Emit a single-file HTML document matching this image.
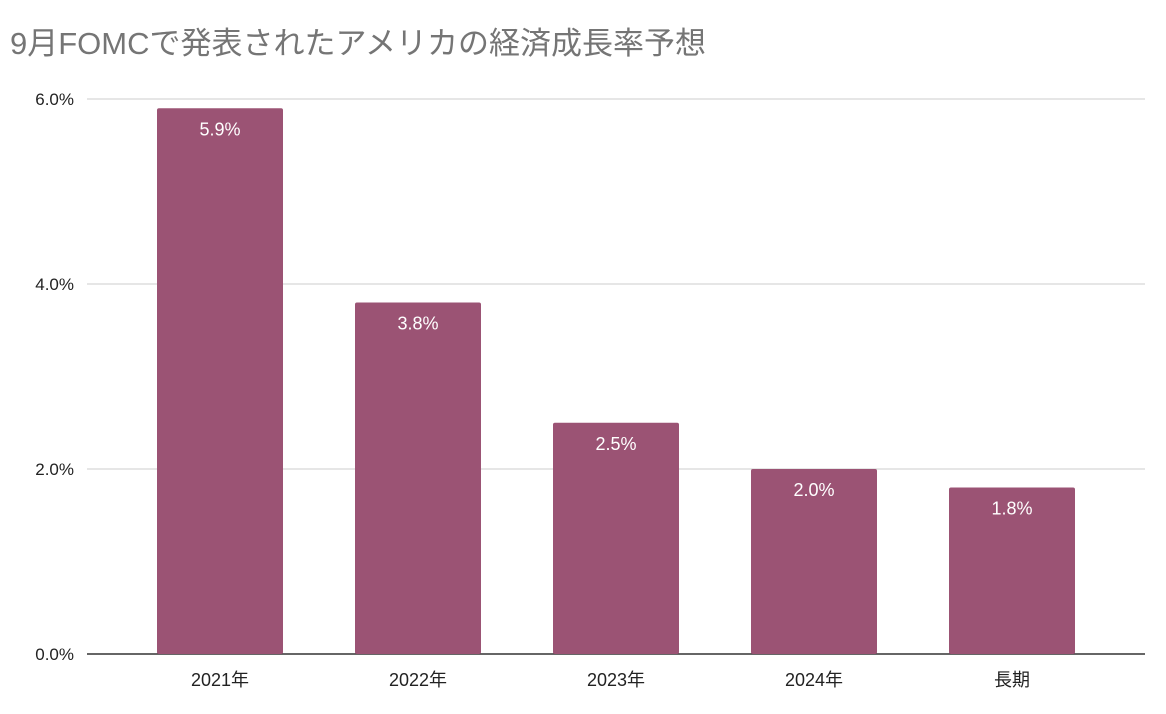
<!DOCTYPE html>
<html><head><meta charset="utf-8"><style>
body{margin:0;background:#fff;}
svg{display:block;font-family:"Liberation Sans","Noto Sans CJK JP",sans-serif;}
</style></head><body>
<svg id="chart" width="1166" height="714" viewBox="0 0 1166 714" xmlns="http://www.w3.org/2000/svg">
<text x="10" y="54" font-size="31" fill="#757575">9月FOMCで発表されたアメリカの経済成長率予想</text>
<g id="grid"></g>
<g id="bars"></g>
<g id="labels"></g>
</svg>
<script>
const categories=["2021年","2022年","2023年","2024年","長期"];
const values=[5.9,3.8,2.5,2.0,1.8];
const valueLabels=["5.9%","3.8%","2.5%","2.0%","1.8%"];
const yTicks=[0,2,4,6];
const yTickLabels=["0.0%","2.0%","4.0%","6.0%"];
const NS="http://www.w3.org/2000/svg";
const y0=654,yTop=99,yMax=6;
function yScale(v){return y0-(y0-yTop)*v/yMax;}
const xStart=121,step=198,barW=126;
function xCenter(i){return xStart+step*(i+0.5);}
function mk(tag,attrs,parent,text){const e=document.createElementNS(NS,tag);for(const k in attrs)e.setAttribute(k,attrs[k]);if(text!==undefined)e.textContent=text;parent.appendChild(e);return e;}
const grid=document.getElementById('grid'),bars=document.getElementById('bars'),labels=document.getElementById('labels');
yTicks.forEach((t,i)=>{
  const y=yScale(t);
  const l=mk('line',{x1:87,x2:1145,y1:y,y2:y,stroke:t===0?'#333':'#ccc','stroke-width':t===0?1.5:1},grid);
  
  
  const tx=mk('text',{x:74,y:y+6,'text-anchor':'end','font-size':17,fill:'#222'},labels,yTickLabels[i]);
  
  
});
categories.forEach((c,i)=>{
  const cx=xCenter(i),y=yScale(values[i]);
  const r=mk('rect',{x:cx-barW/2,y:y,width:barW,height:y0-y,fill:'#9b5374',rx:2},bars);
  
  
  const v=mk('text',{x:cx,y:y+27,'text-anchor':'middle','font-size':18,fill:'#fff'},labels,valueLabels[i]);
  
  
  const xl=mk('text',{x:cx,y:686,'text-anchor':'middle','font-size':18,fill:'#222'},labels,c);
  
  
});
</script>
</body></html>
